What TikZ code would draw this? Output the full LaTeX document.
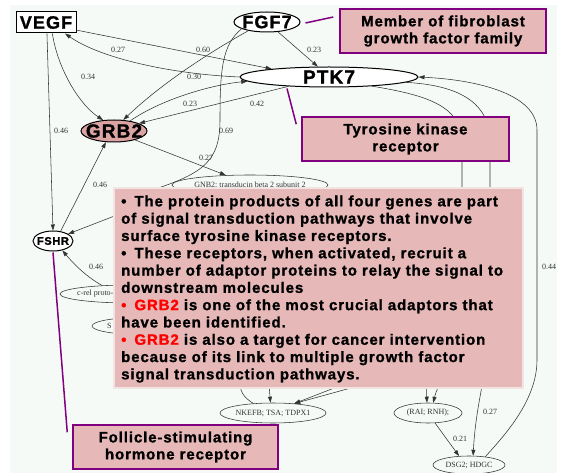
\documentclass[tikz,border=0pt]{standalone}
\usepackage{fontspec}
\setmainfont{Liberation Serif}
\newfontfamily\heavy[LetterSpace=6, BoldFeatures={FakeBold=1.2}]{Liberation Sans}
\usetikzlibrary{shapes.geometric,arrows.meta,calc}
\definecolor{bgc}{HTML}{F5FAF7}
\definecolor{boxfill}{HTML}{E6B9B8}
\definecolor{boxline}{HTML}{800080}
\definecolor{grbfill}{HTML}{DCA3A3}
\definecolor{edgec}{HTML}{333333}
\definecolor{infoline}{HTML}{F3E4E4}
\newcommand\mb[1]{\makebox[0pt]{#1}}
\tikzset{
  edge/.style={draw=edgec, line width=0.55pt, -{Triangle[length=6pt,width=4pt]}},
  plain/.style={draw=edgec, line width=0.55pt},
  lbl/.style={font=\fontsize{8}{9}\selectfont, text=edgec, inner sep=0pt},
  gene/.style={ellipse, draw=black, line width=1pt, inner sep=0pt, fill=white},
  small/.style={ellipse, draw=edgec, line width=0.55pt, inner sep=0pt, fill=bgc, text=edgec, font=\fontsize{8}{9}\selectfont},
  smalltext/.style={inner sep=0pt, text=edgec, font=\fontsize{8}{9}\selectfont},
  note/.style={rectangle, draw=boxline, line width=1.5pt, fill=boxfill, align=center, inner sep=0pt, font=\heavy\bfseries\fontsize{15}{17}\selectfont},
  callout/.style={draw=boxline, line width=1.5pt},
}
\begin{document}
\begin{tikzpicture}[x=1pt,y=-1pt]
\useasboundingbox (0,0) rectangle (565,473);
\fill[bgc] (10,5) rectangle (557,473);

% gene nodes
\node (vegf) [rectangle, draw=black, line width=1pt, minimum width=60pt, minimum height=21pt, inner sep=0pt, fill=white, font=\heavy\bfseries\fontsize{18}{20}\selectfont] at (46,22.5) {VEGF};
\node (fgf7) [gene, minimum width=66pt, minimum height=20pt, font=\heavy\bfseries\fontsize{18}{20}\selectfont] at (267,22) {\mb{FGF7}};
\node (ptk7) [gene, minimum width=178pt, minimum height=20pt, font=\heavy\bfseries\fontsize{19}{21}\selectfont] at (329,77) {\mb{PTK7}};
\node (grb2) [gene, fill=grbfill, minimum width=66pt, minimum height=22pt, font=\heavy\bfseries\fontsize{19}{21}\selectfont] at (114,131) {\mb{GRB2}};
\node (fshr) [gene, minimum width=40pt, minimum height=20pt, font=\heavy\bfseries\fontsize{11}{13}\selectfont] at (53,241) {\mb{FSHR}};

% small nodes
\node (gnb2) [small, minimum width=156pt, minimum height=20pt] at (250,185) {\mb{GNB2; transducin beta 2 subunit 2}};
\node (crel) [small, minimum width=140pt, minimum height=18pt] at (130,294) {};
\node (crelt) [smalltext, anchor=west] at (77,294) {c-rel proto-};
\node (sell) [small, minimum width=96pt, minimum height=17pt] at (140,326) {};
\node (sellt) [smalltext, anchor=west] at (107,326) {S};
\node (nkefb) [small, minimum width=106pt, minimum height=20pt] at (273,413) {\mb{NKEFB; TSA; TDPX1}};
\node (rai) [small, minimum width=68pt, minimum height=20pt] at (428,413) {\mb{(RAI; RNH);}};
\node (dsg2) [small, minimum width=72pt, minimum height=18pt] at (469,465) {\mb{DSG2; HDGC}};

% hidden ends
\coordinate (hF) at (140,194);
\coordinate (hS) at (130,210);
\coordinate (hR) at (426,370);
\coordinate (hN1) at (239,378);
\coordinate (hN2) at (268,370);
\coordinate (hN3) at (360,378);
\coordinate (hN4) at (380,380);

% edges
\draw[edge] (vegf.-14) -- (ptk7.172);
\draw[edge] (ptk7.west) .. controls (170,74) and (100,58) .. (vegf.-30);
\draw[edge] (vegf.-60) .. controls (58,70) and (80,105) .. (grb2.135);
\draw[edge] (vegf.-85) -- (fshr.north);
\draw[edge] (fgf7.205) .. controls (205,55) and (160,85) .. (grb2.50);
\draw[edge] (fgf7.-42) -- (ptk7.137);
\draw[plain] (fgf7.195) .. controls (222,45) and (220,70) .. (220,120) .. controls (220,165) and (200,175) .. (hF);
\draw[edge] (grb2.32) .. controls (160,100) and (210,85) .. (ptk7.183);
\draw[edge] (ptk7.193) -- (grb2.17);
\draw[edge] (grb2.-23) -- (gnb2.158);
\draw[edge] (fshr.52) -- (grb2.234);
\draw[edge] (hS) -- (fshr.25);
\draw[edge] (crel.163) .. controls (85,276) and (72,262) .. (fshr.-45);
\draw[edge] (ptk7.-12) .. controls (425,95) and (460,105) .. (462,140) -- (462,320) .. controls (462,360) and (440,375) .. (rai.63);
\draw[edge] (ptk7.-4) .. controls (455,85) and (486,100) .. (490,135) -- (490,330) .. controls (490,360) and (476,400) .. (dsg2.66);
\draw[edge] (dsg2.27) .. controls (505,435) and (537,400) .. (537,360) -- (537,130) .. controls (537,95) and (480,80) .. (ptk7.east);
\draw[edge] (rai.-55) -- (dsg2.138);
\draw[edge] (hR) -- (rai.96);
\draw[edge] (hN2) -- (nkefb.104);
\draw[edge] (hN3) -- (nkefb.24);
\draw[edge] (hN4) -- (nkefb.24);
\draw[plain] (nkefb.154) .. controls (243,397) and (240,392) .. (hN1);

% edge labels
\node (l1) [lbl] at (118,50) {0.27};
\node (l2) [lbl] at (203,50) {0.60};
\node (l3) [lbl] at (88,77) {0.34};
\node (l4) [lbl] at (194,77) {0.30};
\node (l5) [lbl] at (190,104) {0.23};
\node (l6) [lbl] at (257,104) {0.42};
\node (l7) [lbl] at (314,50) {0.23};
\node (l8) [lbl] at (61,131) {0.46};
\node (l9) [lbl] at (226,131) {0.69};
\node (l10) [lbl] at (206,158) {0.27};
\node (l11) [lbl] at (100,185) {0.46};
\node (l12) [lbl] at (96,267) {0.46};
\node (l13) [lbl] at (549,267) {0.44};
\node (l14) [lbl] at (490,412) {0.27};
\node (l15) [lbl] at (460,439) {0.21};

% callout boxes
\node (fgfbox) [note, minimum width=206pt, minimum height=44pt] at (443,31) {Member of fibroblast\\growth factor family};
\node (tkbox) [note, minimum width=207pt, minimum height=44pt] at (405.5,139) {Tyrosine kinase\\receptor};
\node (fshbox) [note, minimum width=205pt, minimum height=44pt] at (175.5,447) {Follicle-stimulating\\hormone receptor};

\draw[callout] ($(fgf7.east)+(5,1)$) -- ($(fgfbox.west)+(-6,-14)$);
\draw[callout] ($(ptk7.south)+(-42,1)$) -- ($(tkbox.north west)+(-5,8)$);
\draw[callout] ($(fshr.south)+(0,1)$) -- ($(fshbox.north west)+(-5,8)$);

% info box
\node (info) [rectangle, draw=infoline, line width=1.5pt, fill=boxfill, minimum width=409pt, minimum height=200pt, inner sep=0pt] at (318.5,288) {};
\node (infotext) [anchor=west, align=left, inner sep=0pt, font=\heavy\bfseries\fontsize{15}{17.3}\selectfont] at (121,289) {%
•\hspace{8pt}The protein products of all four genes are part\\
of signal transduction pathways that involve\\
surface tyrosine kinase receptors.\\
•\hspace{8pt}These receptors, when activated, recruit a\\
number of adaptor proteins to relay the signal to\\
downstream molecules\\
\textcolor{red}{•\hspace{8pt}GRB2} is one of the most crucial adaptors that\\
have been identified.\\
\textcolor{red}{•\hspace{8pt}GRB2} is also a target for cancer intervention\\
because of its link to multiple growth factor\\
signal transduction pathways.};
\end{tikzpicture}
\end{document}
